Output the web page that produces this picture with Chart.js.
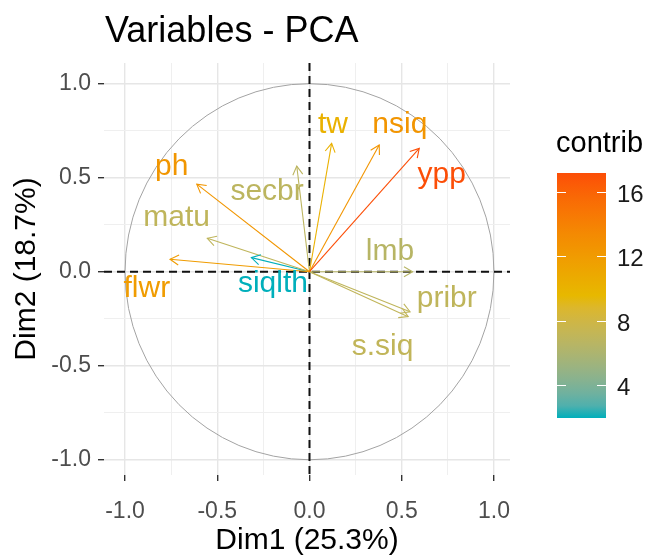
<!DOCTYPE html>
<html>
<head>
<meta charset="utf-8">
<script src="https://cdn.jsdelivr.net/npm/chart.js@4.4.1/dist/chart.umd.min.js"></script>
<style>
  html, body { margin: 0; padding: 0; background: #fff; }
</style>
</head>
<body>
<canvas id="pca" width="649" height="556"></canvas>
<script>
// PCA variable coordinates
const variables = ["ypp", "nsiq", "tw", "ph", "flwr", "secbr", "matu", "siqlth", "lmb", "pribr", "s.siq"];
const dim1 = [0.595, 0.378, 0.120, -0.611, -0.756, -0.069, -0.554, -0.315, 0.559, 0.545, 0.535];
const dim2 = [0.656, 0.674, 0.683, 0.466, 0.066, 0.562, 0.178, 0.075, 0.000, -0.213, -0.239];
const contrib = [17.2, 12.5, 10.2, 12.4, 11.9, 6.8, 7.0, 1.93, 6.5, 7.0, 7.1];
// repelled label anchors (data units, baseline centre)
const labelX = [0.717, 0.490, 0.127, -0.747, -0.882, -0.230, -0.720, -0.198, 0.436, 0.744, 0.396];
const labelY = [0.474, 0.740, 0.738, 0.514, -0.133, 0.381, 0.241, -0.106, 0.062, -0.186, -0.443];

const gridValues = [-1, -0.75, -0.5, -0.25, 0, 0.25, 0.5, 0.75, 1];
const majorValues = [-1, -0.5, 0, 0.5, 1];
const tickLabels = ["-1.0", "-0.5", "0.0", "0.5", "1.0"];
const legendTicks = [4, 8, 12, 16];
const gradientColors = ["#00AFBB", "#E7B800", "#FC4E07"];

const FONT = '"Liberation Sans", Arial, sans-serif';
Chart.defaults.font.family = FONT;

const cmin = Math.min(...contrib);
const cmax = Math.max(...contrib);

// colour interpolation in Lab, like ggplot's gradientn
function hexToRgb(h) {
  return [1, 3, 5].map((i) => parseInt(h.substr(i, 2), 16));
}
function toLinear(c) {
  c /= 255;
  return c <= 0.04045 ? c / 12.92 : Math.pow((c + 0.055) / 1.055, 2.4);
}
function fromLinear(c) {
  c = c <= 0.0031308 ? 12.92 * c : 1.055 * Math.pow(c, 1 / 2.4) - 0.055;
  return Math.max(0, Math.min(255, Math.round(c * 255)));
}
function rgbToLab(rgb) {
  const [r, g, b] = rgb.map(toLinear);
  const X = (0.4124 * r + 0.3576 * g + 0.1805 * b) / 0.95047;
  const Y = 0.2126 * r + 0.7152 * g + 0.0722 * b;
  const Z = (0.0193 * r + 0.1192 * g + 0.9505 * b) / 1.08883;
  const f = (t) => (t > 0.008856 ? Math.cbrt(t) : 7.787 * t + 16 / 116);
  return [116 * f(Y) - 16, 500 * (f(X) - f(Y)), 200 * (f(Y) - f(Z))];
}
function labToRgb(lab) {
  const fy = (lab[0] + 16) / 116;
  const fx = fy + lab[1] / 500;
  const fz = fy - lab[2] / 200;
  const inv = (t) => (t * t * t > 0.008856 ? t * t * t : (t - 16 / 116) / 7.787);
  const X = inv(fx) * 0.95047, Y = inv(fy), Z = inv(fz) * 1.08883;
  const r = 3.2406 * X - 1.5372 * Y - 0.4986 * Z;
  const g = -0.9689 * X + 1.8758 * Y + 0.0415 * Z;
  const b = 0.0557 * X - 0.204 * Y + 1.057 * Z;
  return [fromLinear(r), fromLinear(g), fromLinear(b)];
}
const labStops = gradientColors.map((c) => rgbToLab(hexToRgb(c)));

function colorAt(t) {
  t = Math.max(0, Math.min(1, t));
  const seg = t < 0.5 ? 0 : 1;
  const k = (t - seg * 0.5) * 2;
  const a = labStops[seg], b = labStops[seg + 1];
  const rgb = labToRgb([0, 1, 2].map((i) => a[i] + (b[i] - a[i]) * k));
  return `rgb(${rgb[0]},${rgb[1]},${rgb[2]})`;
}
function colorFor(v) {
  return colorAt((v - cmin) / (cmax - cmin));
}

function isMajor(v) {
  return majorValues.some((m) => Math.abs(m - v) < 1e-9);
}

const pcaDecor = {
  id: "pcaDecor",
  beforeDatasetsDraw(chart) {
    const { ctx, chartArea: area, scales: { x, y } } = chart;
    ctx.save();
    ctx.beginPath();
    ctx.rect(area.left, area.top, area.right - area.left, area.bottom - area.top);
    ctx.clip();
    // correlation circle
    const cx = x.getPixelForValue(0), cy = y.getPixelForValue(0);
    ctx.beginPath();
    ctx.ellipse(cx, cy, x.getPixelForValue(1) - cx, cy - y.getPixelForValue(1), 0, 0, Math.PI * 2);
    ctx.strokeStyle = "#a3a3a3";
    ctx.lineWidth = 1;
    ctx.stroke();
    // dashed axes through origin
    ctx.setLineDash([8, 5]);
    ctx.strokeStyle = "#111";
    ctx.lineWidth = 2;
    ctx.beginPath();
    ctx.moveTo(area.left, cy);
    ctx.lineTo(area.right, cy);
    ctx.moveTo(cx, area.top);
    ctx.lineTo(cx, area.bottom);
    ctx.stroke();
    ctx.restore();
  },
  afterDatasetsDraw(chart) {
    const { ctx, scales: { x, y } } = chart;
    ctx.save();
    // arrow heads
    const ox = x.getPixelForValue(0), oy = y.getPixelForValue(0);
    variables.forEach((v, i) => {
      const tx = x.getPixelForValue(dim1[i]), ty = y.getPixelForValue(dim2[i]);
      const ang = Math.atan2(ty - oy, tx - ox);
      const len = 10, spread = Math.PI / 6;
      ctx.strokeStyle = colorFor(contrib[i]);
      ctx.lineWidth = 1.1;
      ctx.beginPath();
      ctx.moveTo(tx - len * Math.cos(ang - spread), ty - len * Math.sin(ang - spread));
      ctx.lineTo(tx, ty);
      ctx.lineTo(tx - len * Math.cos(ang + spread), ty - len * Math.sin(ang + spread));
      ctx.stroke();
    });
    // variable labels
    ctx.font = `30px ${FONT}`;
    ctx.textAlign = "center";
    ctx.textBaseline = "alphabetic";
    variables.forEach((v, i) => {
      ctx.fillStyle = colorFor(contrib[i]);
      ctx.fillText(v, x.getPixelForValue(labelX[i]), y.getPixelForValue(labelY[i]));
    });

    // plot title
    ctx.fillStyle = "#000";
    ctx.textAlign = "left";
    ctx.font = `36px ${FONT}`;
    ctx.fillText("Variables - PCA", 105, 42);

    // colour bar legend
    const barL = 557, barR = 606, barT = 173, barB = 418;
    const grad = ctx.createLinearGradient(0, barB, 0, barT);
    for (let s = 0; s <= 20; s++) grad.addColorStop(s / 20, colorAt(s / 20));
    ctx.fillStyle = grad;
    ctx.fillRect(barL, barT, barR - barL, barB - barT);
    const valY = (v) => barT + ((cmax - v) / (cmax - cmin)) * (barB - barT);
    ctx.strokeStyle = "#fff";
    ctx.lineWidth = 1.2;
    ctx.font = `24px ${FONT}`;
    ctx.textBaseline = "middle";
    legendTicks.forEach((t) => {
      const py = Math.round(valY(t)) + 0.5;
      ctx.beginPath();
      ctx.moveTo(barL, py);
      ctx.lineTo(barL + 9, py);
      ctx.moveTo(barR - 9, py);
      ctx.lineTo(barR, py);
      ctx.stroke();
      ctx.fillStyle = "#1a1a1a";
      ctx.fillText(String(t), 617, py + 3);
    });
    ctx.fillStyle = "#000";
    ctx.textBaseline = "alphabetic";
    ctx.font = `29px ${FONT}`;
    ctx.fillText("contrib", 556, 152);
    ctx.restore();
  },
};

function axisOptions(min, max, titleText, titlePadding) {
  return {
    type: "linear",
    min: min,
    max: max,
    afterBuildTicks: (scale) => {
      scale.ticks = gridValues.map((v) => ({ value: v }));
    },
    ticks: {
      autoSkip: false,
      maxRotation: 0,
      padding: 7,
      color: "#4d4d4d",
      font: { size: 23 },
      callback: (val) => (isMajor(val) ? tickLabels[majorValues.findIndex((m) => Math.abs(m - val) < 1e-9)] : ""),
    },
    grid: {
      color: (c) => (isMajor(c.tick.value) ? "#e6e6e6" : "#efefef"),
      lineWidth: (c) => (isMajor(c.tick.value) ? 1.4 : 1),
      tickColor: (c) => (isMajor(c.tick.value) ? "#333" : "rgba(0,0,0,0)"),
      tickLength: 6,
      tickWidth: 1.4,
    },
    border: { display: false },
    title: {
      display: true,
      text: titleText,
      color: "#000",
      font: { size: 30, lineHeight: 1 },
      padding: titlePadding,
    },
  };
}

const xAxis = axisOptions(-1.114, 1.087, "Dim1 (25.3%)", { top: 0, bottom: 0 });
xAxis.afterFit = (scale) => { scale.height = 81; };
xAxis.ticks.padding = 17;
const yAxis = axisOptions(-1.081, 1.110, "Dim2 (18.7%)", { top: 12, bottom: 0 });
yAxis.afterFit = (scale) => { scale.width = 104; };

new Chart(document.getElementById("pca"), {
  type: "scatter",
  data: {
    datasets: variables.map((v, i) => ({
      label: v,
      data: [{ x: 0, y: 0 }, { x: dim1[i], y: dim2[i] }],
      showLine: true,
      borderColor: colorFor(contrib[i]),
      borderWidth: 1.1,
      pointRadius: 0,
    })),
  },
  options: {
    responsive: false,
    animation: false,
    layout: { padding: { left: 0, top: 63, right: 139, bottom: 0 } },
    plugins: {
      legend: { display: false },
      tooltip: { enabled: false },
    },
    scales: { x: xAxis, y: yAxis },
  },
  plugins: [pcaDecor],
});
</script>
</body>
</html>
